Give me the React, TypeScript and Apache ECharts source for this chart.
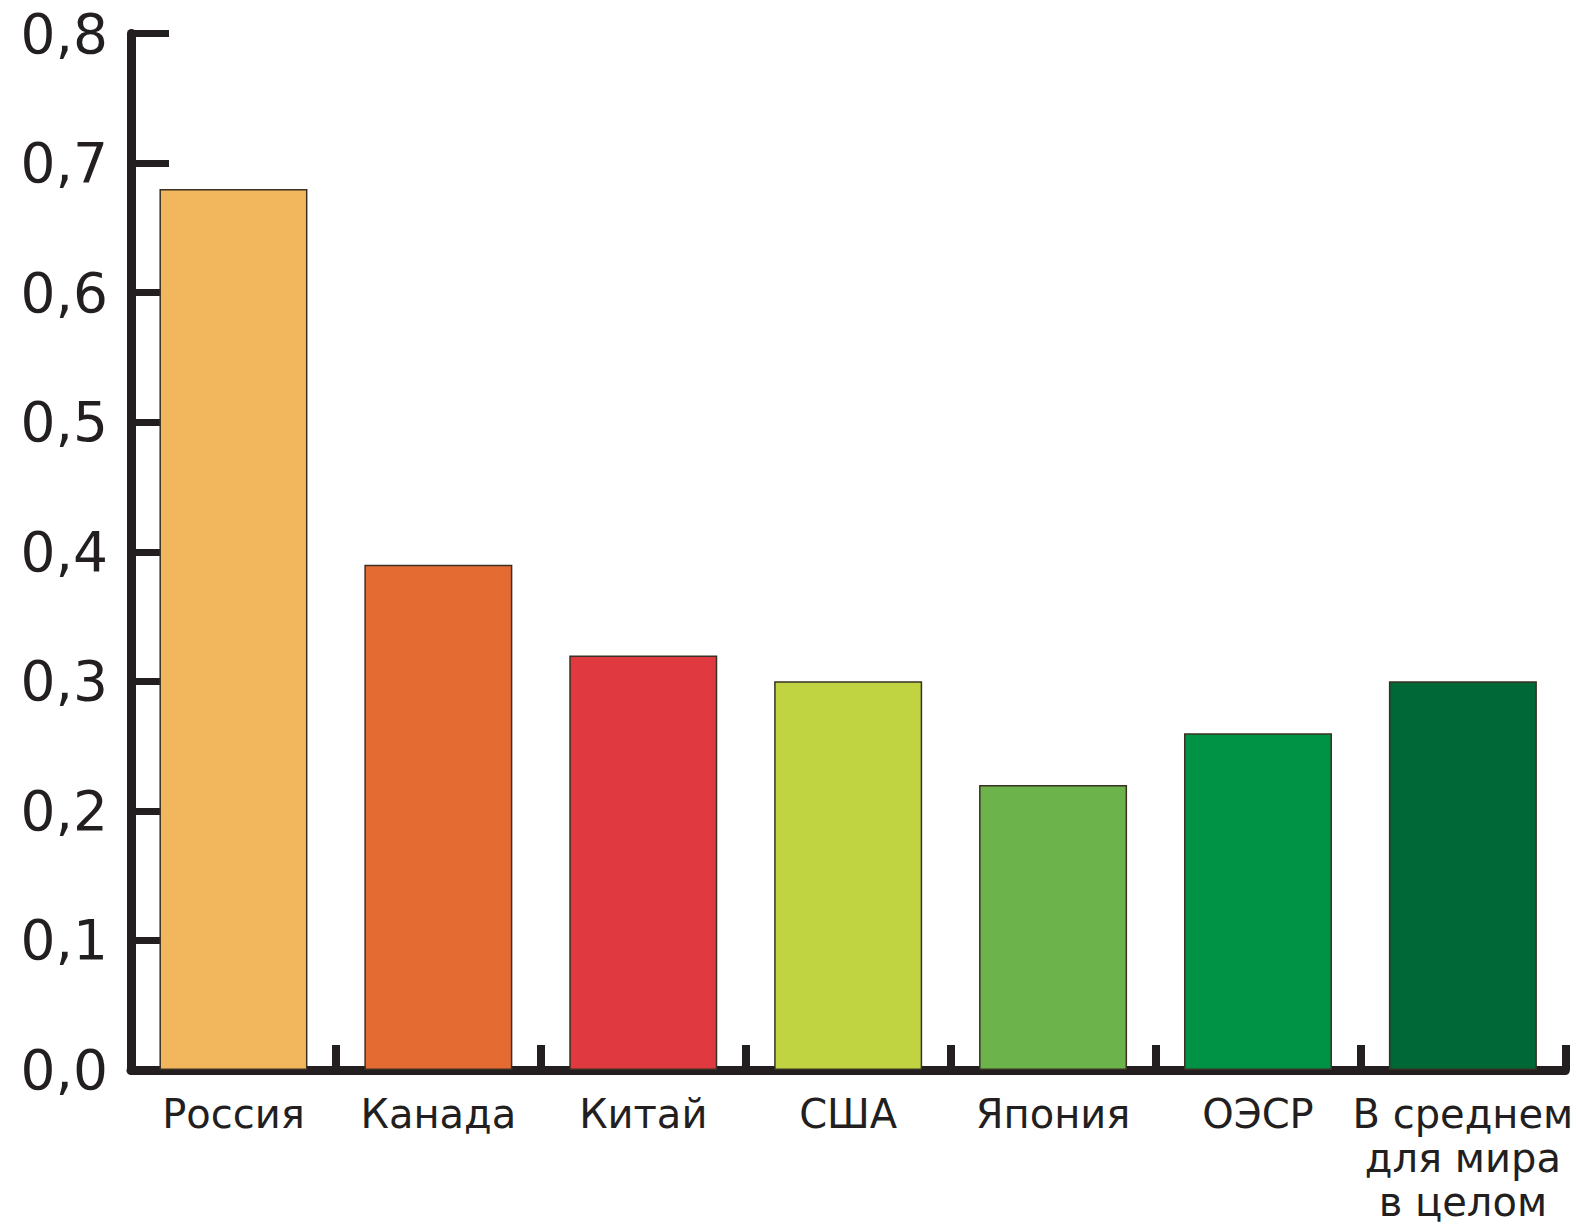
import React, { useEffect, useRef } from "react";
import * as echarts from "echarts";

const categories = ["Россия", "Канада", "Китай", "США", "Япония", "ОЭСР", "В среднем\nдля мира\nв целом"];
const values = [0.68, 0.39, 0.32, 0.3, 0.22, 0.26, 0.3];
const barColors = ["#F2B75C", "#E46C33", "#E0393F", "#BFD440", "#6BB34A", "#009345", "#006837"];
const yTicks = [0, 0.1, 0.2, 0.3, 0.4, 0.5, 0.6, 0.7, 0.8];

const AXIS = "#231F20";
const FONT = "DejaVu Sans";

export default function App() {
  const ref = useRef<HTMLDivElement>(null);
  useEffect(() => {
    if (!ref.current) return;
    const chart = echarts.init(ref.current, null, { renderer: "svg" });
    chart.setOption({
      animation: false,
      backgroundColor: "#ffffff",
      grid: { left: 131, top: 33.5, width: 1438, height: 1044.5, containLabel: false },
      xAxis: {
        type: "category",
        data: categories,
        boundaryGap: true,
        axisLine: { show: true, lineStyle: { color: AXIS, width: 9 } },
        axisTick: { show: true, inside: true, length: 25, alignWithLabel: false, lineStyle: { color: AXIS, width: 8 } },
        axisLabel: {
          interval: 0,
          margin: 22,
          color: "#231F20",
          fontFamily: FONT,
          fontSize: 40,
          lineHeight: 44,
          align: "center",
        },
        splitLine: { show: false },
      },
      yAxis: {
        type: "value",
        min: 0,
        max: 0.8,
        interval: 0.1,
        axisLine: { show: true, lineStyle: { color: AXIS, width: 9 } },
        axisTick: { show: true, inside: true, length: 38, lineStyle: { color: AXIS, width: 7 } },
        axisLabel: {
          margin: 23,
          color: "#231F20",
          fontFamily: FONT,
          fontSize: 55,
          formatter: (v: number) => {
            const t = yTicks.find((x) => Math.abs(x - v) < 1e-9);
            return (t ?? v).toFixed(1).replace(".", ",");
          },
        },
        splitLine: { show: false },
      },
      series: [
        {
          type: "bar",
          barWidth: 148,
          data: values.map((v, i) => ({
            value: v,
            itemStyle: { color: barColors[i], borderColor: "#3A3024", borderWidth: 1.5 },
          })),
          z: 1,
        },
      ],
    });
    return () => chart.dispose();
  }, []);
  return <div ref={ref} style={{ position: "fixed", left: 0, top: 0, width: 1576, height: 1224 }} />;
}
